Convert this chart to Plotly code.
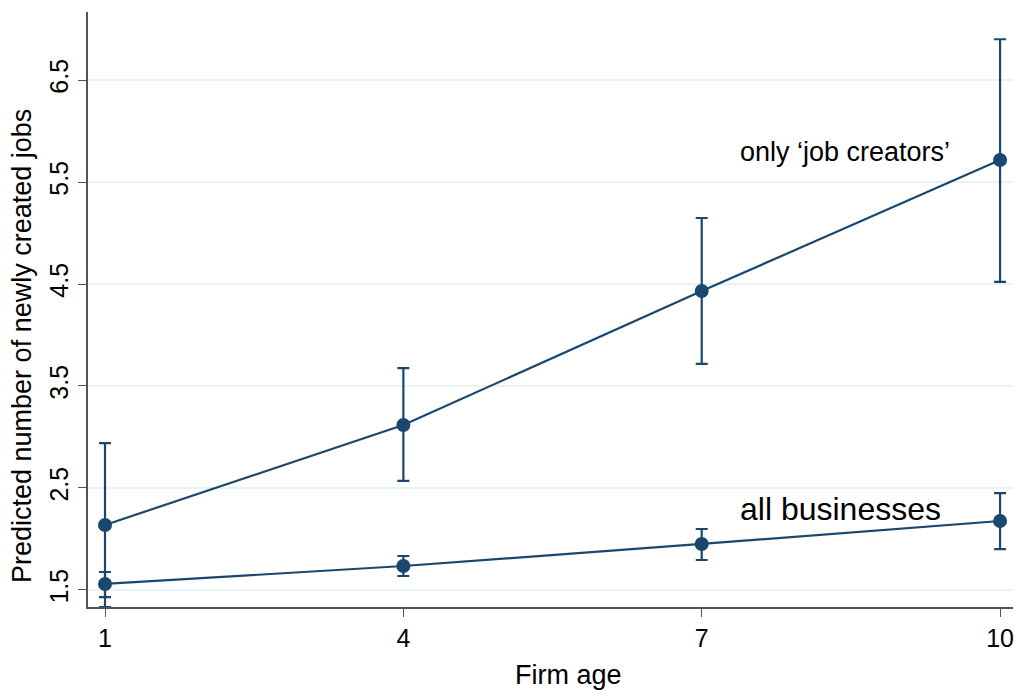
import plotly.graph_objects as go

firm_age = [1, 4, 7, 10]

# Predicted number of newly created jobs, with confidence bounds
creators_mean = [2.137, 3.118, 4.431, 5.716]
creators_upper = [2.94, 3.676, 5.147, 6.90]
creators_lower = [1.333, 2.569, 3.716, 4.52]

all_mean = [1.559, 1.735, 1.951, 2.176]
all_upper = [1.676, 1.833, 2.098, 2.45]
all_lower = [1.43, 1.637, 1.794, 1.90]

y_ticks = [1.5, 2.5, 3.5, 4.5, 5.5, 6.5]
x_ticks = [1, 4, 7, 10]

navy = "#1a476f"
font_family = "Liberation Sans, Arial, sans-serif"

fig = go.Figure()


def add_series(mean, upper, lower):
    fig.add_trace(go.Scatter(
        x=firm_age,
        y=mean,
        mode="lines+markers",
        line=dict(color=navy, width=2.2),
        marker=dict(color=navy, size=14),
        error_y=dict(
            type="data",
            symmetric=False,
            array=[u - m for u, m in zip(upper, mean)],
            arrayminus=[m - l for m, l in zip(mean, lower)],
            color=navy,
            thickness=2.2,
            width=6,
        ),
        showlegend=False,
        hoverinfo="skip",
    ))


add_series(creators_mean, creators_upper, creators_lower)
add_series(all_mean, all_upper, all_lower)

fig.add_annotation(x=8.44, y=5.794, text="only \u2018job creators\u2019",
                   showarrow=False, font=dict(size=27, color="#000000", family=font_family))
fig.add_annotation(x=8.40, y=2.294, text="all businesses",
                   showarrow=False, font=dict(size=32, color="#000000", family=font_family))

# Axis titles
fig.add_annotation(xref="paper", yref="paper", x=(568 - 88) / 925, y=(607 - 675) / 595,
                   xanchor="center", yanchor="middle",
                   text="Firm age", showarrow=False,
                   font=dict(size=27, color="#000000", family=font_family))
fig.add_annotation(xref="paper", yref="paper", x=(22 - 88) / 925, y=(607 - 346) / 595,
                   xanchor="center", yanchor="middle",
                   text="Predicted number of newly created jobs", textangle=-90,
                   showarrow=False,
                   font=dict(size=27, color="#000000", family=font_family))

fig.update_layout(
    template="none",
    width=1015,
    height=690,
    margin=dict(l=88, r=2, t=12, b=83),
    paper_bgcolor="white",
    plot_bgcolor="white",
    font=dict(family=font_family, color="#000000", size=25),
    xaxis=dict(
        range=[0.829, 10.13],
        tickvals=x_ticks,
        ticktext=[str(v) for v in x_ticks],
        showgrid=False,
        zeroline=False,
        showline=True,
        linecolor="#555555",
        linewidth=1.5,
        ticks="outside",
        ticklen=8,
        tickcolor="#555555",
        tickfont=dict(size=25),
        automargin=False,
    ),
    yaxis=dict(
        range=[1.333, 7.167],
        tickvals=y_ticks,
        ticktext=[f"{v:.1f}" for v in y_ticks],
        tickangle=-90,
        showgrid=True,
        gridcolor="#eaf2f3",
        gridwidth=1.5,
        zeroline=False,
        showline=True,
        linecolor="#555555",
        linewidth=1.5,
        ticks="outside",
        ticklen=8,
        tickcolor="#555555",
        tickfont=dict(size=25),
        automargin=False,
    ),
)

fig.write_html("out.html")
